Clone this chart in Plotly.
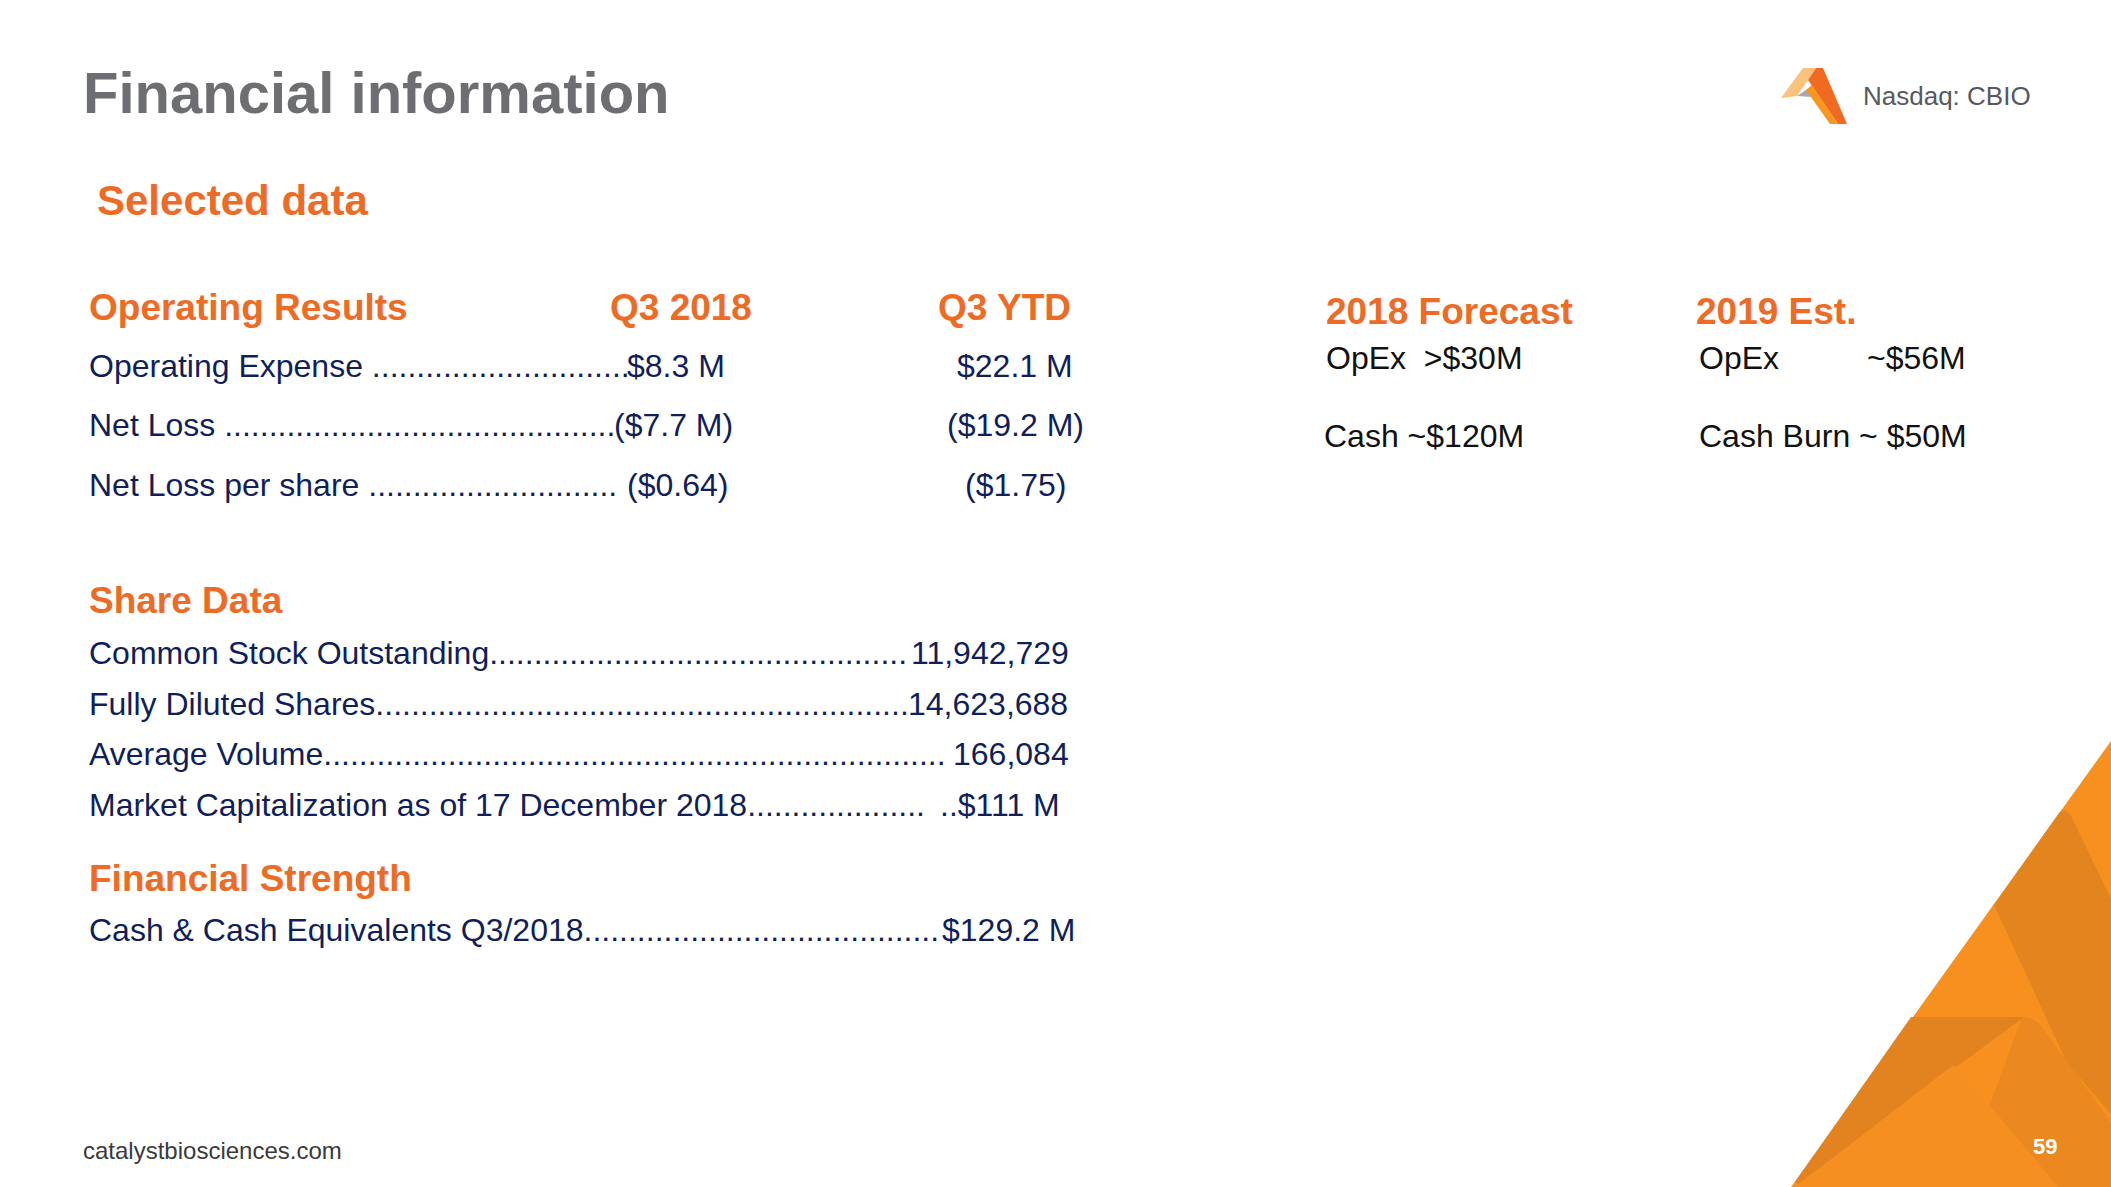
import plotly.graph_objects as go

# ---------------- data ----------------
title_text = "Financial information"
subtitle_text = "Selected data"
ticker_text = "Nasdaq: CBIO"
footer_text = "catalystbiosciences.com"
page_number = "59"

op_header = ["Operating Results", "Q3 2018", "Q3 YTD"]
op_labels = ["Operating Expense", "Net Loss", "Net Loss per share"]
op_q3_2018 = ["$8.3 M", "($7.7 M)", "($0.64)"]
op_q3_ytd = ["$22.1 M", "($19.2 M)", "($1.75)"]

share_header = "Share Data"
share_labels = ["Common Stock Outstanding", "Fully Diluted Shares", "Average Volume",
                "Market Capitalization as of 17 December 2018"]
share_values = ["11,942,729", "14,623,688", "166,084", "..$111 M"]

strength_header = "Financial Strength"
strength_labels = ["Cash & Cash Equivalents Q3/2018"]
strength_values = ["$129.2 M"]

forecast_headers = ["2018 Forecast", "2019 Est."]
forecast_2018 = ["OpEx\u00a0\u00a0>$30M", "Cash ~$120M"]
est_2019_labels = ["OpEx", "Cash Burn ~ $50M"]
est_2019_values = ["~$56M", ""]

# ---------------- style ----------------
W, H = 2111, 1187
FONT = "Liberation Sans, Arial, Helvetica, sans-serif"
ORANGE = "#ee6b25"
NAVY = "#101f5a"
GRAY_T = "#6d6e71"
BODY = 32
PAD_L = 1  # annotation inner offset compensation (left anchored)

# Arial / Liberation Sans advance widths (per 1000 em)
AW = {' ': 278, '.': 278, ',': 278, '$': 556, '(': 333, ')': 333, '&': 667, '/': 278,
      '~': 584, '>': 584, ':': 278}
for c in "0123456789":
    AW[c] = 556
AW.update(dict(A=667, B=667, C=722, D=722, E=667, F=611, G=778, H=722, I=278, J=500, K=667,
               L=556, M=833, N=722, O=778, P=667, Q=778, R=722, S=667, T=611, U=722, V=667,
               W=944, X=667, Y=667, Z=611))
AW.update(dict(a=556, b=556, c=500, d=556, e=556, f=278, g=556, h=556, i=222, j=222, k=500,
               l=222, m=833, n=556, o=556, p=556, q=556, r=333, s=500, t=278, u=556, v=500,
               w=722, x=500, y=500, z=500))


def tw(s, size=BODY):
    return sum(AW.get(ch, 556) for ch in s) * size / 1000.0


fig = go.Figure()
fig.update_layout(
    width=W, height=H, autosize=False,
    margin=dict(l=0, r=0, t=0, b=0),
    paper_bgcolor="white", plot_bgcolor="white",
    xaxis=dict(range=[0, W], visible=False, fixedrange=True),
    yaxis=dict(range=[H, 0], visible=False, fixedrange=True),
    showlegend=False,
)

ann = []


def text(x, y, s, size=BODY, color=NAVY, bold=False, anchor="left"):
    dx = -PAD_L if anchor == "left" else 0
    ann.append(dict(x=x + dx, y=y, xref="x", yref="y", text=("<b>%s</b>" % s) if bold else s,
                    showarrow=False, xanchor=anchor, yanchor="middle",
                    font=dict(family=FONT, size=size, color=color), borderpad=0))


def leader_row(x0, y, label, value_left, sep=" ", pre=""):
    start = x0 + tw(label + sep)
    avail = value_left - start - tw(pre)
    n = max(0, int(round(avail / tw("."))))
    text(x0, y, label + sep + "." * n + pre)


# header texts
text(83, 92, title_text, size=58, color=GRAY_T, bold=True)
text(97, 200, subtitle_text, size=42, color=ORANGE, bold=True)
text(1863, 96, ticker_text, size=26, color="#58595b")
text(83, 1150, footer_text, size=24, color="#3a3a3a")
text(2045, 1146, page_number, size=22, color="white", bold=True, anchor="center")

# Operating results
LX = 89
text(LX, 307, op_header[0], size=37, color=ORANGE, bold=True)
text(610, 307, op_header[1], size=37, color=ORANGE, bold=True)
text(1004, 307, op_header[2], size=37, color=ORANGE, bold=True, anchor="center")
op_y = [366, 425, 485]
op_val_x = [627, 614, 627]
op_pre = ["", "", " "]
for i, lab in enumerate(op_labels):
    leader_row(LX, op_y[i], lab, op_val_x[i], sep=" ", pre=op_pre[i])
    text(op_val_x[i], op_y[i], op_q3_2018[i])
    text(1015, op_y[i], op_q3_ytd[i], anchor="center")

# Share data
text(LX, 600, share_header, size=37, color=ORANGE, bold=True)
sh_y = [653, 704, 754, 805]
sh_right = [1070, 1069, 1070, 1061]
sh_pre = ["", "", " ", " "]
for i, lab in enumerate(share_labels):
    vleft = sh_right[i] - tw(share_values[i])
    leader_row(LX, sh_y[i], lab, vleft, sep="", pre=sh_pre[i])
    text(sh_right[i], sh_y[i], share_values[i], anchor="right")

# Financial strength
text(LX, 878, strength_header, size=37, color=ORANGE, bold=True)
for i, lab in enumerate(strength_labels):
    vleft = 1076 - tw(strength_values[i])
    leader_row(LX, 930, lab, vleft, sep="")
    text(1076, 930, strength_values[i], anchor="right")

# Forecasts
text(1326, 311, forecast_headers[0], size=37, color=ORANGE, bold=True)
text(1696, 311, forecast_headers[1], size=37, color=ORANGE, bold=True)
fc_y = [358, 436]
for i in range(2):
    text(1326 if i == 0 else 1324, fc_y[i], forecast_2018[i], color="#111111")
    text(1699, fc_y[i], est_2019_labels[i], color="#111111")
    if est_2019_values[i]:
        text(1867, fc_y[i], est_2019_values[i], color="#111111")

fig.update_layout(annotations=ann)

# ---------------- decorative shapes ----------------
shapes = []


def poly(path, color):
    shapes.append(dict(type="path", xref="x", yref="y", path=path, fillcolor=color,
                       line=dict(width=0), layer="above"))


# corner graphic
poly("M 1791,1187 L 2111,741 L 2111,1187 Z", "#f7901e")
poly("M 2059,813 Q 2066,806 2072,818 L 2111,899 L 2111,1114 L 2067,1063 L 1994,905 Z", "#e4841f")
poly("M 2022,1017 Q 2036,1017 2044,1030 L 2111,1122 L 2111,1187 L 1960,1187 Z", "#eb8920")
poly("M 1911,1017 L 2024,1017 L 1798,1184 L 1795,1182 Z", "#e2831f")
poly("M 1948,1069 Q 1956,1062 1962,1072 L 2058,1187 L 1795,1187 Z", "#f68f22")

# logo
poly("M 1781,98 L 1803,68 L 1816,68 L 1797,96 Z", "#fcc27c")
poly("M 1797,96 L 1809,88 L 1812,97 Z", "#a7a9ac")
poly("M 1808,80 L 1816,68 L 1823,68 L 1847,124 L 1838,124 Z", "#f06a22")
poly("M 1806,90 L 1812,85 L 1838,124 L 1830,124 Z", "#f8961e")

fig.update_layout(shapes=shapes)

fig.write_html("out.html", include_plotlyjs=True,
               config={"displayModeBar": False, "staticPlot": True},
               post_script="document.body.style.margin='0';document.body.style.overflow='hidden';")
